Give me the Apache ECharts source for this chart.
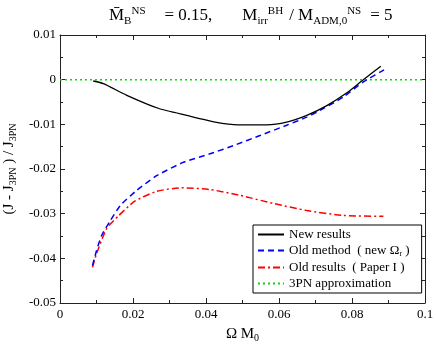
<!DOCTYPE html>
<html>
<head>
<meta charset="utf-8">
<script src="https://cdn.jsdelivr.net/npm/echarts@6/dist/echarts.min.js"></script>
<style>
  html, body { margin: 0; padding: 0; background: #fff; }
  #main { width: 436px; height: 344px; }
</style>
</head>
<body>
<div id="main"></div>
<script>
// New results (black solid)
const newX = [0.0091, 0.0119, 0.0183, 0.0269, 0.0347, 0.0425, 0.0489, 0.0566, 0.0621, 0.0676, 0.0731, 0.0785, 0.0831, 0.0879];
const newY = [-0.0003, -0.0009, -0.0035, -0.0064, -0.0080, -0.0095, -0.0101, -0.0101, -0.0095, -0.0080, -0.0058, -0.0030, 0.0000, 0.0030];

// Old method (new Omega_r), blue dashed
const oldMethodX = [0.0089, 0.0100, 0.0114, 0.0137, 0.0165, 0.0210, 0.0265, 0.0338, 0.0411, 0.0484, 0.0548, 0.0621, 0.0676, 0.0721, 0.0776, 0.0831, 0.0890];
const oldMethodY = [-0.0416, -0.0383, -0.0349, -0.0317, -0.0282, -0.0248, -0.0215, -0.0185, -0.0166, -0.0145, -0.0125, -0.0102, -0.0084, -0.0065, -0.0039, -0.0005, 0.0023];

// Old results (Paper I), red dash-dot
const oldResX = [0.0089, 0.0100, 0.0128, 0.0160, 0.0205, 0.0265, 0.0333, 0.0411, 0.0493, 0.0584, 0.0676, 0.0776, 0.0886];
const oldResY = [-0.0420, -0.0390, -0.0333, -0.0305, -0.0272, -0.0250, -0.0242, -0.0246, -0.0259, -0.0277, -0.0293, -0.0304, -0.0306];

// 3PN approximation, green dotted
const pnX = [0, 0.1];
const pnY = [0, 0];

const seriesNames = ['New results', 'Old method ( new Ωr )', 'Old results ( Paper I )', '3PN approximation'];
const legendTexts = ['New results', 'Old method  ( new Ω{s|r} )', 'Old results  ( Paper I )', '3PN approximation'];

const serif = 'Liberation Serif';
const axisColor = '#222';

function pairs(xs, ys) {
    return xs.map((x, i) => [x, ys[i]]);
}

// common axis look, ticks point inside on all four sides
function axisBase(extra) {
    return Object.assign({
        type: 'value',
        axisLine: { show: true, onZero: false, lineStyle: { color: axisColor, width: 1 } },
        axisTick: { show: true, inside: true, length: 5, lineStyle: { color: axisColor } },
        minorTick: { show: true, splitNumber: 2, length: 3, lineStyle: { color: axisColor } },
        splitLine: { show: false },
        axisLabel: { show: false }
    }, extra);
}

let myChart = echarts.init(document.getElementById('main'), null, { renderer: 'canvas' });

let option = {
    animation: false,
    backgroundColor: '#fff',
    title: {
        left: 104,
        top: 0,
        text: '{t|M̄}{sub|B}{sup|NS}{eq|= 0.15,}{m|M}{sub|irr}{sup|BH}{sl|/ M}{sub|ADM,0}{sup|NS}{e5|= 5}',
        textStyle: {
            fontFamily: serif,
            fontWeight: 'normal',
            rich: {
                t: { fontFamily: serif, fontSize: 17, color: '#000' },
                eq: { fontFamily: serif, fontSize: 17, color: '#000', padding: [0, 0, 0, 19] },
                m: { fontFamily: serif, fontSize: 17, color: '#000', padding: [0, 0, 0, 30] },
                sl: { fontFamily: serif, fontSize: 17, color: '#000', padding: [0, 0, 0, 6] },
                e5: { fontFamily: serif, fontSize: 17, color: '#000', padding: [0, 0, 0, 9] },
                sub: { fontFamily: serif, fontSize: 11, color: '#000', padding: [11, 0, 0, 0] },
                sup: { fontFamily: serif, fontSize: 11, color: '#000', padding: [0, 0, 10, 0] }
            }
        }
    },
    legend: {
        orient: 'vertical',
        left: 253,
        top: 225,
        padding: [3, 12, 3, 4],
        itemGap: 3,
        itemWidth: 26,
        itemHeight: 13,
        borderColor: '#000',
        borderWidth: 1,
        backgroundColor: '#fff',
        // hide the symbol drawn on the legend line
        itemStyle: { color: 'rgba(0,0,0,0)', borderColor: 'rgba(0,0,0,0)', borderWidth: 0 },
        data: seriesNames,
        formatter: (name) => legendTexts[seriesNames.indexOf(name)],
        textStyle: {
            fontFamily: serif,
            fontSize: 13,
            color: '#000',
            rich: {
                s: { fontFamily: serif, fontSize: 8, color: '#000', padding: [7, 0, 0, 0] }
            }
        }
    },
    grid: {
        left: 60,
        right: 11,
        top: 35,
        bottom: 41,
        containLabel: false,
        outerBoundsMode: 'none'
    },
    xAxis: [
        axisBase({
            position: 'bottom',
            min: 0,
            max: 0.1,
            interval: 0.02,
            name: '{t|Ω M}{s|0}',
            nameLocation: 'middle',
            nameGap: 22,
            nameTextStyle: {
                rich: {
                    t: { fontFamily: serif, fontSize: 15, color: '#000' },
                    s: { fontFamily: serif, fontSize: 10, color: '#000', padding: [8, 0, 0, 0] }
                }
            },
            axisLabel: { show: true, margin: 5, fontFamily: serif, fontSize: 13, color: '#000' }
        }),
        axisBase({ position: 'top', min: 0, max: 0.1, interval: 0.02 })
    ],
    yAxis: [
        axisBase({
            position: 'left',
            min: -0.05,
            max: 0.01,
            interval: 0.01,
            name: '{t|(J - J}{s|3PN}{t| ) / J}{s|3PN}',
            nameLocation: 'middle',
            nameRotate: 90,
            nameGap: 36,
            nameTextStyle: {
                rich: {
                    t: { fontFamily: serif, fontSize: 15, color: '#000' },
                    s: { fontFamily: serif, fontSize: 10, color: '#000', padding: [8, 0, 0, 0] }
                }
            },
            axisLabel: { show: true, margin: 4, fontFamily: serif, fontSize: 13, color: '#000' }
        }),
        axisBase({ position: 'right', min: -0.05, max: 0.01, interval: 0.01 })
    ],
    series: [
        {
            name: seriesNames[0],
            type: 'line',
            symbol: 'none',
            smooth: 0.2,
            lineStyle: { color: '#000', width: 1.3, type: 'solid' },
            itemStyle: { color: '#000' },
            data: pairs(newX, newY),
            z: 5
        },
        {
            name: seriesNames[1],
            type: 'line',
            symbol: 'none',
            smooth: 0.2,
            lineStyle: { color: '#0000ff', width: 1.5, type: [6, 4] },
            itemStyle: { color: '#0000ff' },
            data: pairs(oldMethodX, oldMethodY),
            z: 4
        },
        {
            name: seriesNames[2],
            type: 'line',
            symbol: 'none',
            smooth: 0.2,
            lineStyle: { color: '#ff0000', width: 1.5, type: [7, 3, 2, 3] },
            itemStyle: { color: '#ff0000' },
            data: pairs(oldResX, oldResY),
            z: 3
        },
        {
            name: seriesNames[3],
            type: 'line',
            symbol: 'none',
            lineStyle: { color: '#00e000', width: 1.5, type: [2, 3] },
            itemStyle: { color: '#00e000' },
            data: pairs(pnX, pnY),
            z: 2
        }
    ]
};

myChart.setOption(option);
</script>
</body>
</html>
